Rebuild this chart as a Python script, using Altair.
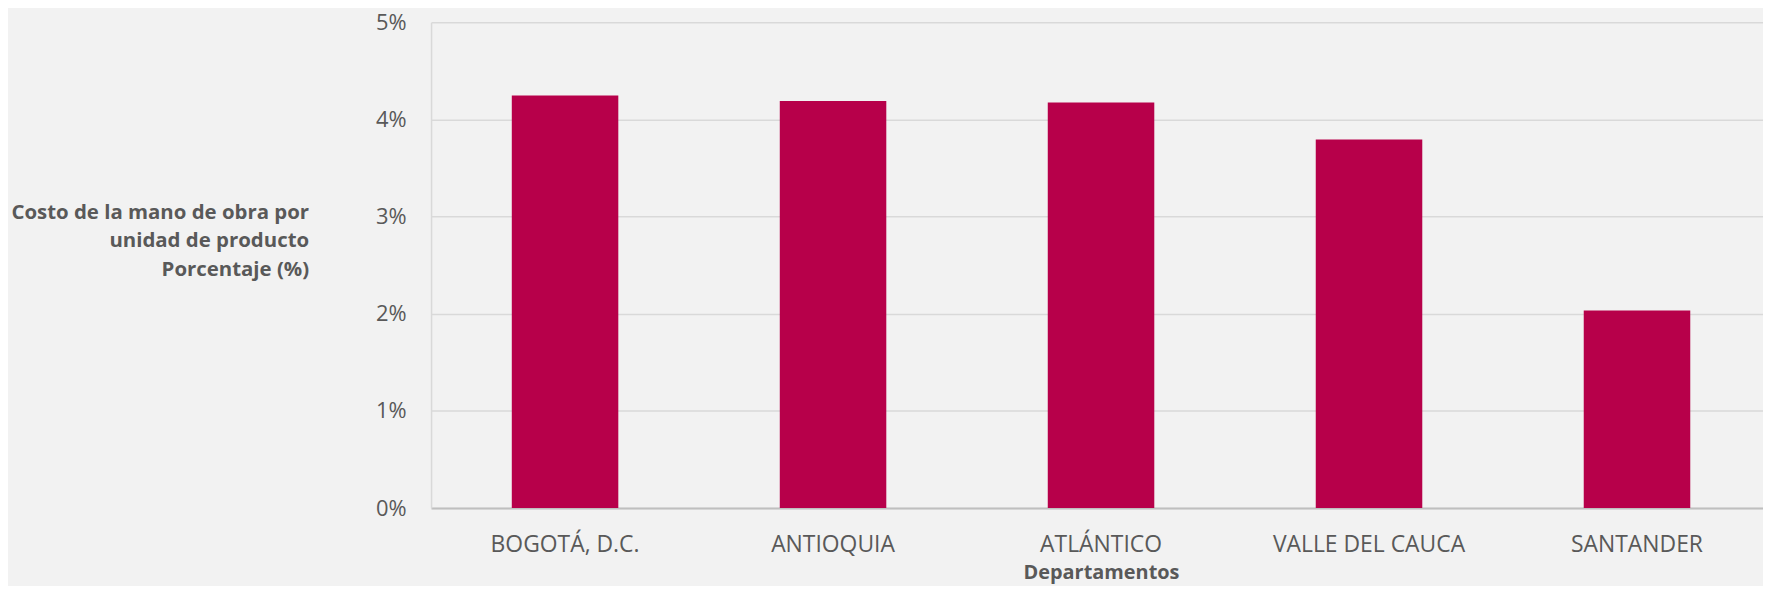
import altair as alt
import pandas as pd

departamentos = ["BOGOTÁ, D.C.", "ANTIOQUIA", "ATLÁNTICO", "VALLE DEL CAUCA", "SANTANDER"]
valores = [0.04245, 0.0419, 0.04173, 0.03794, 0.02033]
y_ticks = [0, 0.01, 0.02, 0.03, 0.04, 0.05]
y_title = ["Costo de la mano de obra por", "unidad de producto", "Porcentaje (%)"]
x_title = "Departamentos"

df = pd.DataFrame({"dep": departamentos, "val": valores})

FONT = "Open Sans"
TXT = "#595959"

chart = (
    alt.Chart(df)
    .mark_bar(color="#b7004a")
    .encode(
        x=alt.X(
            "dep:N",
            sort=None,
            scale=alt.Scale(paddingInner=0.6025, paddingOuter=0.2863, align=0.526),
            axis=alt.Axis(
                title=x_title,
                labelAngle=0,
                labelFont=FONT,
                labelFontSize=23,
                labelColor=TXT,
                labelPadding=37,
                labelBaseline="middle",
                labelLimit=0,
                ticks=False,
                domainColor="#bfbfbf",
                domainWidth=2,
                titleFont=FONT,
                titleFontSize=20,
                titleFontWeight="bold",
                titleColor=TXT,
                titleX=673,
                titleY=65,
                titleAnchor="start",
                titleAlign="center",
                titleBaseline="middle",
            ),
        ),
        y=alt.Y(
            "val:Q",
            scale=alt.Scale(domain=[0, 0.05], nice=False),
            axis=alt.Axis(
                title=y_title,
                values=y_ticks,
                format=".0%",
                labelFont=FONT,
                labelFontSize=22,
                labelColor=TXT,
                labelPadding=25,
                ticks=False,
                domainColor="#d9d9d9",
                domainWidth=1.5,
                gridColor="#d9d9d9",
                gridWidth=1.5,
                titleFont=FONT,
                titleFontSize=20.5,
                titleFontWeight="bold",
                titleColor=TXT,
                titleAngle=0,
                titleAlign="right",
                titleAnchor="start",
                titleBaseline="middle",
                titleX=-123,
                titleY=191,
                titleLineHeight=28.5,
            ),
        ),
    )
    .properties(
        width=1338,
        height=488,
        background="#f2f2f2",
        autosize=alt.AutoSizeParams(type="none"),
        padding={"left": 425, "top": 13, "right": 0, "bottom": 77},
    )
    .configure_view(stroke=None)
)

chart.save("out.html", embed_options={"renderer": "svg", "actions": False})
